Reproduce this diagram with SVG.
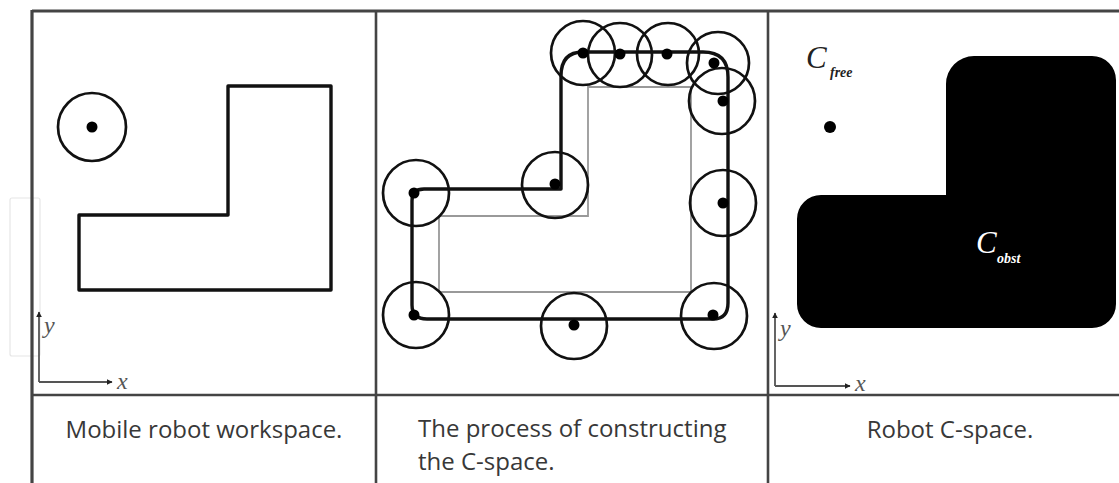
<svg xmlns="http://www.w3.org/2000/svg" width="1119" height="483" viewBox="0 0 1119 483">
<style>
.frame{stroke:#444;fill:none}
.thick{stroke:#111;stroke-width:3.4;fill:none;stroke-linejoin:round}
.ring{stroke:#111;stroke-width:2.7;fill:none}
.dot{fill:#000}
.gray{stroke:#999;stroke-width:1.8;fill:none}
.axis{stroke:#555;stroke-width:1.8;fill:none}
.ax{font-family:"Liberation Serif",serif;font-style:italic;font-size:24px;fill:#555}
.cap{font-family:"Open Sans",sans-serif;font-size:24px;fill:#383838}
.cbig{font-family:"Liberation Serif",serif;font-style:italic;font-size:31px}
.csub{font-family:"Liberation Serif",serif;font-style:italic;font-weight:bold;font-size:14px}
</style>
<defs>
<marker id="arr" viewBox="0 0 10 10" refX="9" refY="5" markerWidth="6" markerHeight="6" markerUnits="userSpaceOnUse" orient="auto">
<path d="M0,0 L10,5 L0,10 Z" fill="#222"/>
</marker>
</defs>
<rect width="1119" height="483" fill="#fff"/>
<rect x="10" y="198" width="30" height="158" rx="2" fill="none" stroke="#e6e6e6" stroke-width="1.2"/>
<g id="frame">
<line class="frame" x1="32" y1="11" x2="1119" y2="11" stroke-width="3.2"/>
<line class="frame" x1="32" y1="395" x2="1119" y2="395" stroke-width="2.6"/>
<line class="frame" x1="32" y1="10" x2="32" y2="483" stroke-width="3.2"/>
<line class="frame" x1="376" y1="10" x2="376" y2="483" stroke-width="2.6"/>
<line class="frame" x1="768" y1="10" x2="768" y2="483" stroke-width="2.6"/>
</g>
<g id="panel1">
<path class="thick" d="M228,86 H331 V290 H79 V215 H228 Z"/>
<circle class="ring" cx="92" cy="127" r="34"/>
<circle class="dot" cx="92" cy="127" r="5.5"/>
<path class="axis" d="M39,382 V312" marker-end="url(#arr)"/>
<path class="axis" d="M39,382 H112" marker-end="url(#arr)"/>
<text class="ax" x="44" y="333">y</text>
<text class="ax" x="117" y="389">x</text>
<text class="cap" x="204" y="438" text-anchor="middle">Mobile robot workspace.</text>
</g>
<g id="panel2">
<path class="gray" d="M588,87 H691 V292 H439 V216 H588 Z"/>
<path class="thick" d="M583,52 H703 Q728,52 728,77 V303 Q728,319 713,319 H427 Q412,319 412,305 V201 Q412,189 424,189 H561 V76 Q561,52 583,52 Z"/>
<g>
<circle class="ring" cx="583" cy="53" r="32"/>
<circle class="ring" cx="620" cy="55" r="32"/>
<circle class="ring" cx="668" cy="54" r="31"/>
<circle class="ring" cx="718" cy="63" r="31"/>
<circle class="ring" cx="722" cy="101" r="33"/>
<circle class="ring" cx="723" cy="203" r="33"/>
<circle class="ring" cx="714" cy="316" r="33"/>
<circle class="ring" cx="574" cy="326" r="33"/>
<circle class="ring" cx="416" cy="315" r="33"/>
<circle class="ring" cx="416" cy="193" r="33"/>
<circle class="ring" cx="555" cy="185" r="33"/>
</g>
<g>
<circle class="dot" cx="583" cy="53" r="5.5"/>
<circle class="dot" cx="620" cy="54" r="5.5"/>
<circle class="dot" cx="667" cy="54" r="5.5"/>
<circle class="dot" cx="714" cy="63" r="5.5"/>
<circle class="dot" cx="723" cy="101" r="5.5"/>
<circle class="dot" cx="723" cy="203" r="5.5"/>
<circle class="dot" cx="713" cy="315" r="5.5"/>
<circle class="dot" cx="574" cy="325" r="5.5"/>
<circle class="dot" cx="414" cy="315" r="5.5"/>
<circle class="dot" cx="414" cy="193" r="5.5"/>
<circle class="dot" cx="555" cy="184" r="5.5"/>
</g>
<text class="cap" x="418" y="437">The process of constructing</text>
<text class="cap" x="418" y="470">the C-space.</text>
</g>
<g id="panel3">
<path fill="#000" d="M946,195 V84 A28,28 0 0 1 974,56 H1092 A24,24 0 0 1 1116,80 V304 A24,24 0 0 1 1092,328 H821 A24,24 0 0 1 797,304 V219 A24,24 0 0 1 821,195 Z"/>
<circle class="dot" cx="830" cy="127" r="6"/>
<text class="cbig" x="806" y="68" fill="#222">C</text>
<text class="csub" x="830" y="77" fill="#222">free</text>
<text class="cbig" x="976" y="253" fill="#fff">C</text>
<text class="csub" x="997" y="263" fill="#fff">obst</text>
<path class="axis" d="M775,386 V313" marker-end="url(#arr)"/>
<path class="axis" d="M775,386 H850" marker-end="url(#arr)"/>
<text class="ax" x="780" y="336">y</text>
<text class="ax" x="855" y="391">x</text>
<text class="cap" x="950" y="438" text-anchor="middle">Robot C-space.</text>
</g>
</svg>
